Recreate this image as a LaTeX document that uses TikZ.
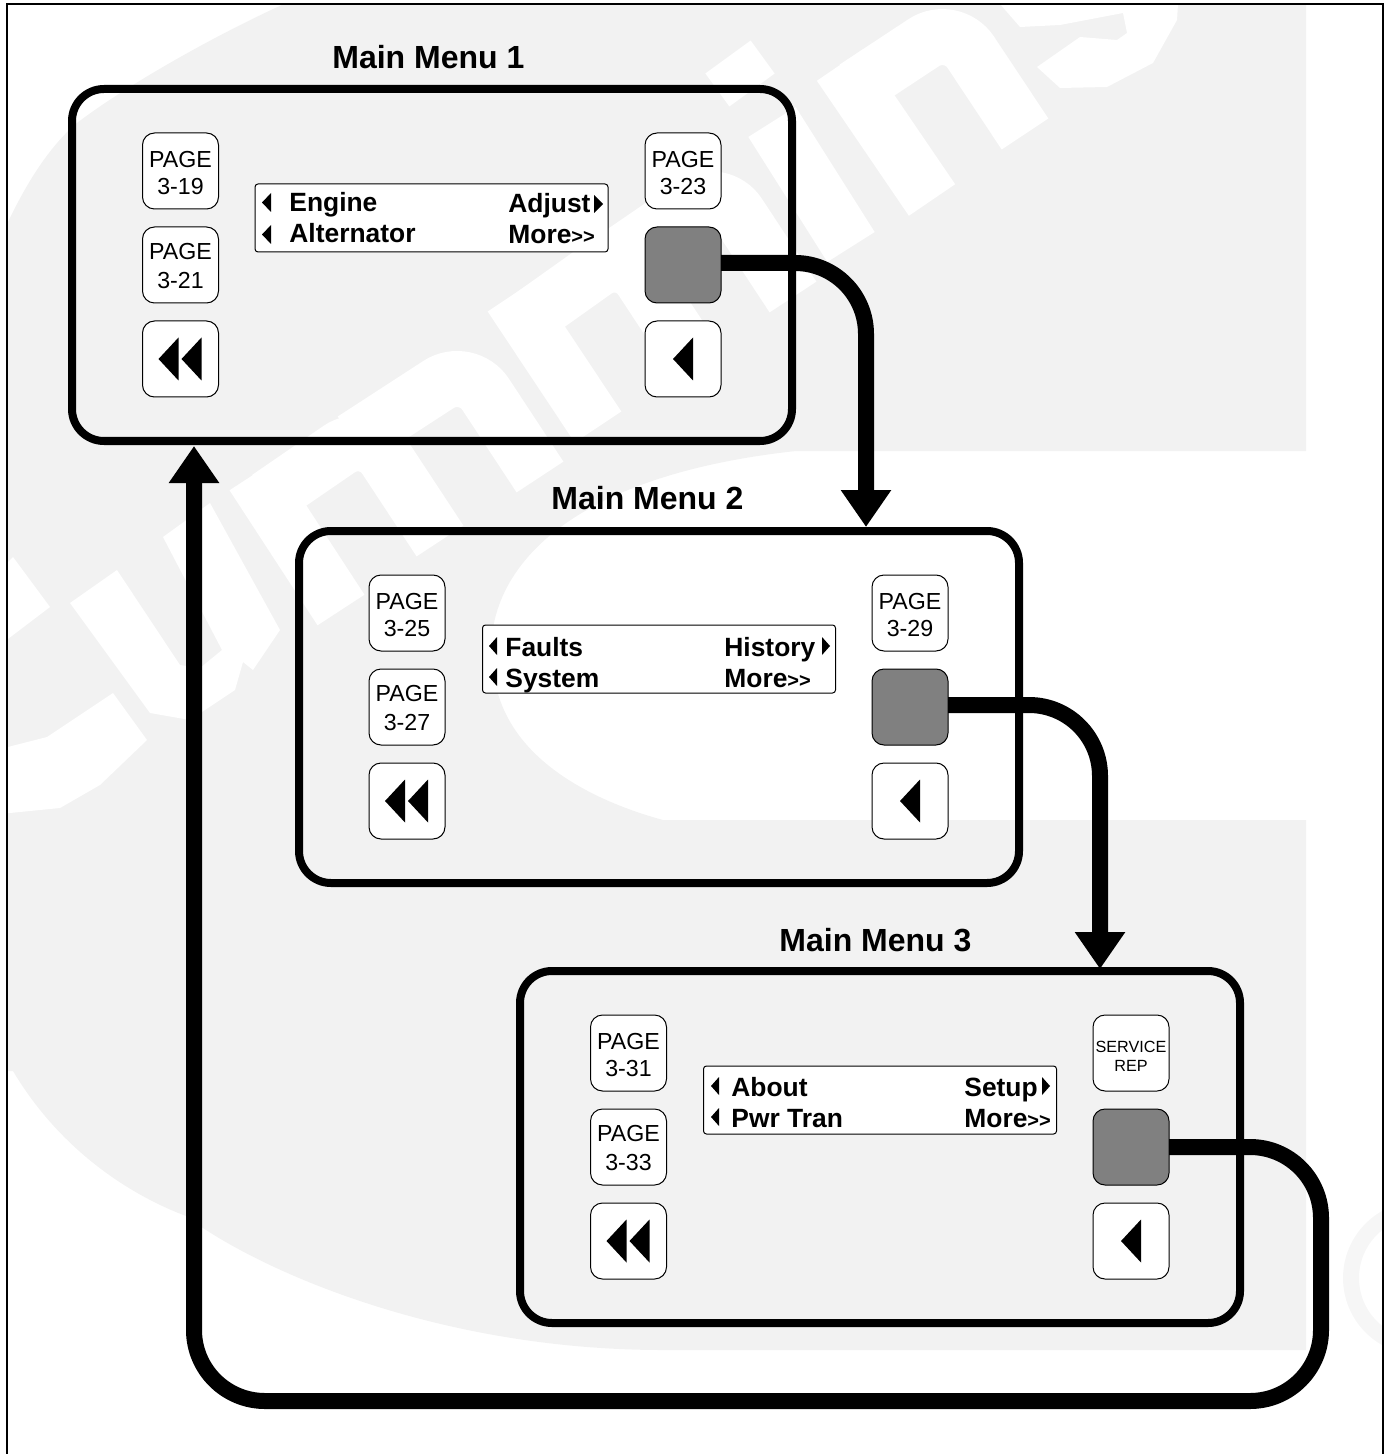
\documentclass[tikz,border=0pt]{standalone}
\usepackage{fontspec}
\setmainfont{Liberation Sans}
\usetikzlibrary{arrows.meta}
\definecolor{wm}{HTML}{F2F2F2}
\definecolor{wmring}{HTML}{F6F6F6}
\definecolor{keygray}{HTML}{808080}
\newcommand{\more}{More{\fontsize{10}{12}\selectfont{>}{>}}}
\newcommand{\topkey}[2]{\rule{0pt}{9.95pt}#1\\[-0.5pt]#2}
\newcommand{\midkey}[2]{\rule{0pt}{9.2pt}#1\\[0.75pt]#2}
\tikzset{
  panel/.style={draw=black,line width=4pt,rounded corners=16pt,minimum width=360pt,minimum height=176pt,inner sep=0pt,outer sep=0pt},
  keybase/.style={draw=black,line width=0.5pt,rounded corners=6pt,minimum width=38pt,minimum height=38pt,inner sep=0pt,outer sep=0pt,align=center,font=\fontsize{11.6}{13.8}\selectfont},
  keywhite/.style={keybase,fill=white},
  keydark/.style={keybase,fill=keygray},
  lcd/.style={draw=black,fill=white,line width=0.5pt,rounded corners=1.5pt,minimum width=176.5pt,minimum height=34pt,inner sep=0pt,outer sep=0pt},
  menutitle/.style={anchor=base west,inner sep=0pt,font=\fontsize{16}{19}\selectfont\bfseries},
  item/.style={anchor=base west,inner sep=0pt,font=\fontsize{13.2}{16}\selectfont\bfseries},
  flow/.style={draw=black,line width=8pt,rounded corners=35.5pt},
  flowhead/.style={flow,-{Triangle[length=18.5pt,width=24pt]}},
  wmstroke/.style={draw=white,line width=28pt,rounded corners=17pt,line cap=butt}
}
\begin{document}
\begin{tikzpicture}[x=0.5pt,y=-0.5pt]
\useasboundingbox (0,0) rectangle (1386,1454);
% watermark
\begin{scope}
\clip (7,4) rectangle (1383,1454);
\fill[wm] (284,4) .. controls (205,40) and (120,90) .. (77,123)
  .. controls (45,150) and (20,195) .. (3,233) -- (3,1071) -- (13,1071)
  .. controls (60,1150) and (130,1195) .. (186,1216)
  .. controls (250,1265) and (430,1350) .. (663,1350)
  -- (1306,1350) -- (1306,820) -- (663,820)
  .. controls (590,800) and (515,760) .. (497,690)
  .. controls (470,600) and (530,480) .. (796,451)
  -- (1306,451) -- (1306,4) -- cycle;
\draw[wmring,line width=8pt] (1420,1278) circle[radius=69];
% letters
\fill[white] (0,570) -- (13,557) -- (50,607) -- (0,645) -- cycle;
\fill[white] (0,749) -- (47,737) -- (113,693) -- (147,740) -- (100,785) -- (60,808) -- (0,814) -- cycle;
\fill[white] (70,603) -- (117,570) -- (180,665) -- (200,668) -- (222,650) -- (163,537) -- (210,503) -- (280,630) -- (253,670) -- (243,662) -- (235,690) -- (190,720) -- (150,713) -- cycle;
\draw[wmstroke] (253,475) -- (341,610);
\draw[wmstroke] (268,498) -- (367,430) -- (440,541);
\draw[wmstroke] (353,440) -- (467,366) -- (540,477);
\draw[wmstroke] (511,296) -- (598,427);
\draw[wmstroke] (526,320) -- (623,251) -- (696,362);
\draw[wmstroke] (609,262) -- (720,186) -- (793,297);
\draw[wmstroke] (772,122) -- (851,247);
\draw[wmstroke] (728,57) -- (752,90);
\draw[wmstroke] (840,65) -- (932,200);
\draw[wmstroke] (855,88) -- (952,24) -- (1025,134);
\fill[white] (1000,4) -- (1020,27) -- (1060,25) -- (1123,13) -- (1127,33) -- (1117,40) -- (1080,37) -- (1037,67) -- (1060,88) -- (1107,87) -- (1153,63) -- (1177,20) -- (1178,4) -- cycle;
\end{scope}
% frame
\draw[black,line width=1pt] (7,1456) -- (7,4) -- (1383,4) -- (1383,1456);
% panels
\node[panel] (p1) at (432,265) {};
\node[panel] (p2) at (659,707) {};
\node[panel] (p3) at (880,1147) {};
% titles
\node[menutitle] (t1) at (332,69) {Main Menu 1};
\node[menutitle] (t2) at (551,509) {Main Menu 2};
\node[menutitle] (t3) at (779,951) {Main Menu 3};
% flow coordinates
\coordinate (c1) at (866,263);
\coordinate (a1) at (866,527);
\coordinate (c2) at (1100,705);
\coordinate (a2) at (1100,969);
\coordinate (c3) at (1321,1147);
\coordinate (d3) at (1321,1401);
\coordinate (e3) at (194,1401);
\coordinate (a3) at (194,446);
% keys panel 1
\node[keywhite] (k11) at (180.5,171) {\topkey{PAGE}{3-19}};
\node[keywhite] (k12) at (180.5,265) {\midkey{PAGE}{3-21}};
\node[keywhite] (k13) at (180.5,359) {};
\node[keywhite] (k14) at (683,171) {\topkey{PAGE}{3-23}};
\node[keydark]  (k15) at (683,265) {};
\node[keywhite] (k16) at (683,359) {};
% keys panel 2
\node[keywhite] (k21) at (407,613) {\topkey{PAGE}{3-25}};
\node[keywhite] (k22) at (407,707) {\midkey{PAGE}{3-27}};
\node[keywhite] (k23) at (407,801) {};
\node[keywhite] (k24) at (910,613) {\topkey{PAGE}{3-29}};
\node[keydark]  (k25) at (910,707) {};
\node[keywhite] (k26) at (910,801) {};
% keys panel 3
\node[keywhite] (k31) at (628.5,1053) {\topkey{PAGE}{3-31}};
\node[keywhite] (k32) at (628.5,1147) {\midkey{PAGE}{3-33}};
\node[keywhite] (k33) at (628.5,1241) {};
\node[keywhite,font=\fontsize{8.1}{9.6}\selectfont] (k34) at (1131,1053) {\rule{0pt}{8.95pt}SERVICE\\REP};
\node[keydark]  (k35) at (1131,1147) {};
\node[keywhite] (k36) at (1131,1241) {};
% key arrows
\foreach \k in {k13,k23,k33}{
  \fill[black,shift={(\k.center)}] (-22,0) -- (-2,-21.5) -- (-2,21.5) -- cycle;
  \fill[black,shift={(\k.center)}] (1,0) -- (21,-21.5) -- (21,21.5) -- cycle;
}
\foreach \k in {k16,k26,k36}{
  \fill[black,shift={(\k.center)}] (-10,0) -- (10,-21.5) -- (10,21.5) -- cycle;
}
% displays
\node[lcd] (l1) at (431.5,218) {};
\node[lcd] (l2) at (659,659) {};
\node[lcd] (l3) at (880,1100) {};
\node[item] (i11) at (289,212) {Engine};
\node[item] (i12) at (289,243) {Alternator};
\node[item] (i13) at (508,213) {Adjust};
\node[item] (i14) at (508,244) {\more};
\node[item] (i21) at (505,656) {Faults};
\node[item] (i22) at (505,687) {System};
\node[item] (i23) at (724,656) {History};
\node[item] (i24) at (724,687) {\more};
\node[item] (i31) at (731,1096) {About};
\node[item] (i32) at (731,1127) {Pwr Tran};
\node[item] (i33) at (964,1096) {Setup};
\node[item] (i34) at (964,1127) {\more};
% display arrows
\fill[black] (262,202.5) -- (271,193) -- (271,212) -- cycle;
\fill[black] (262,234.5) -- (271,225) -- (271,244) -- cycle;
\fill[black] (603,204) -- (594,195) -- (594,213) -- cycle;
\fill[black] (489,646) -- (497,637) -- (497,655) -- cycle;
\fill[black] (489,677) -- (497,668) -- (497,686) -- cycle;
\fill[black] (830,646) -- (822,637) -- (822,655) -- cycle;
\fill[black] (711,1086) -- (719,1077) -- (719,1095) -- cycle;
\fill[black] (711,1117) -- (719,1108) -- (719,1126) -- cycle;
\fill[black] (1050,1086) -- (1042,1077) -- (1042,1095) -- cycle;
% connectors
\draw[flowhead] (k15.east |- c1) -- (c1) -- (a1);
\draw[flowhead] (k25.east |- c2) -- (c2) -- (a2);
\draw[flowhead] (k35.east |- c3) -- (c3) -- (d3) -- (e3) -- (a3);
\end{tikzpicture}
\end{document}
